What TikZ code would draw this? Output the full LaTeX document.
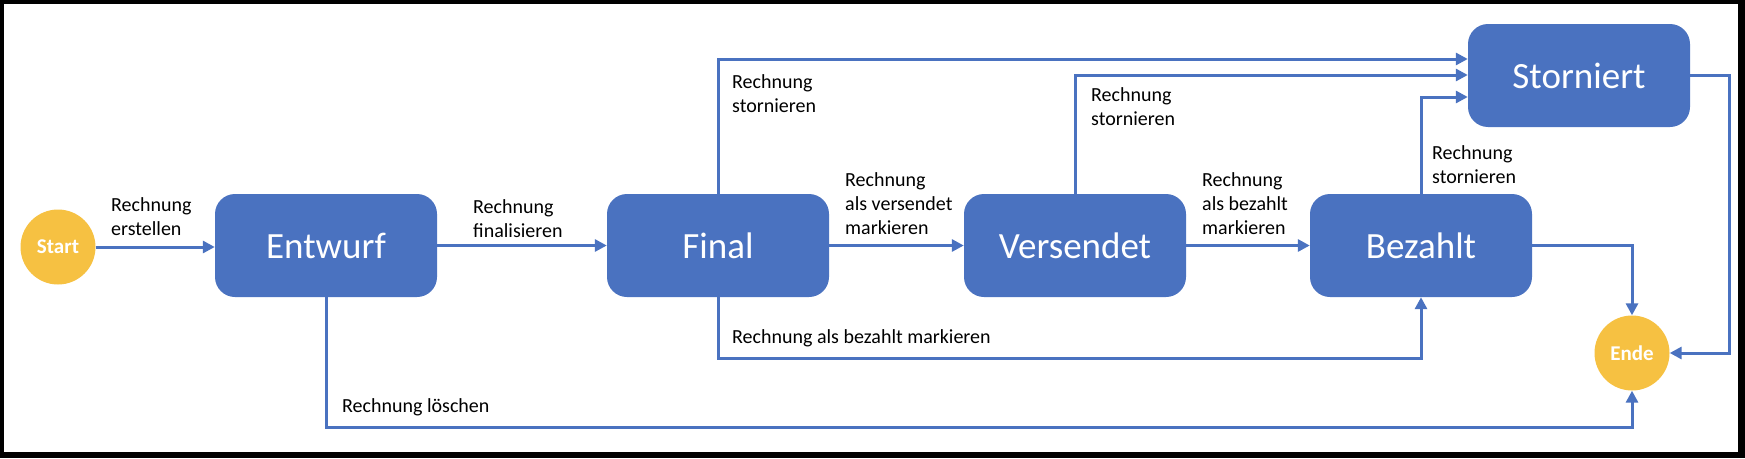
\documentclass[tikz,border=0pt]{standalone}
\usepackage{fontspec}
\setmainfont{Carlito}
\usetikzlibrary{arrows.meta}
\definecolor{boxblue}{HTML}{4A72C0}
\definecolor{lineblue}{HTML}{4A72C0}
\definecolor{circyellow}{HTML}{F6C142}
\begin{document}
\begin{tikzpicture}[x=1pt,y=-1pt,
  state/.style={rectangle, rounded corners=20pt, fill=boxblue, minimum width=222pt, minimum height=103pt, text=white, font=\fontsize{37}{44}\selectfont, inner sep=0pt},
  term/.style={circle, fill=circyellow, minimum size=75pt, inner sep=0pt, text=white, font=\fontsize{21}{25}\selectfont\bfseries},
  lbl/.style={anchor=base west, align=left, inner sep=0pt, font=\fontsize{20}{24}\selectfont},
  conn/.style={draw=lineblue, line width=3pt, -{Triangle[length=12pt,width=12pt]}}]
\useasboundingbox (0,0) rectangle (1745,458);
\fill[black] (0,0) rectangle (1745,458);
\fill[white] (4,4) rectangle (1738,452);

\node[term] (start) at (58,247) {Start};
\node[state] (entwurf) at (326,245.5) {Entwurf};
\node[state] (final) at (718,245.5) {Final};
\node[state] (versendet) at (1075,245.5) {Versendet};
\node[state] (bezahlt) at (1421,245.5) {Bezahlt};
\node[state] (storniert) at (1579,75.5) {Storniert};
\node[term] (ende) at (1632,353) {Ende};

\coordinate (sr) at (1729,75.5);
\coordinate (ebot) at (326,427);
\coordinate (fbot) at (718,358);
\coordinate (ftop) at (718,59);
\coordinate (vtop) at (1075,75);
\coordinate (btop) at (1421,97);

\draw[conn] (start.east) -- (start.east -| entwurf.west);
\draw[conn] (entwurf) -- (final);
\draw[conn] (final) -- (versendet);
\draw[conn] (versendet) -- (bezahlt);
\draw[conn] (bezahlt.east) -| (ende.north);
\draw[conn] (storniert.east) -- (sr) |- (ende.east);
\draw[conn] (entwurf.south) -- (ebot) -| (ende.south);
\draw[conn] (final.south) -- (fbot) -| (bezahlt.south);
\draw[conn] (final.north) -- (ftop) -- (ftop -| storniert.west);
\draw[conn] (versendet.north) -- (vtop) -- (vtop -| storniert.west);
\draw[conn] (bezahlt.north) -- (btop) -- (btop -| storniert.west);

\node[lbl] (l1) at (111,235) {Rechnung\\erstellen};
\node[lbl] (l2) at (473,237) {Rechnung\\finalisieren};
\node[lbl] (l3) at (845,234) {Rechnung\\als versendet\\markieren};
\node[lbl] (l4) at (1202,234) {Rechnung\\als bezahlt\\markieren};
\node[lbl] (l5) at (732,112) {Rechnung\\stornieren};
\node[lbl] (l6) at (1091,125) {Rechnung\\stornieren};
\node[lbl] (l7) at (1432,183) {Rechnung\\stornieren};
\node[lbl] (l8) at (732,343) {Rechnung als bezahlt markieren};
\node[lbl] (l9) at (342,412) {Rechnung löschen};
\end{tikzpicture}
\end{document}
